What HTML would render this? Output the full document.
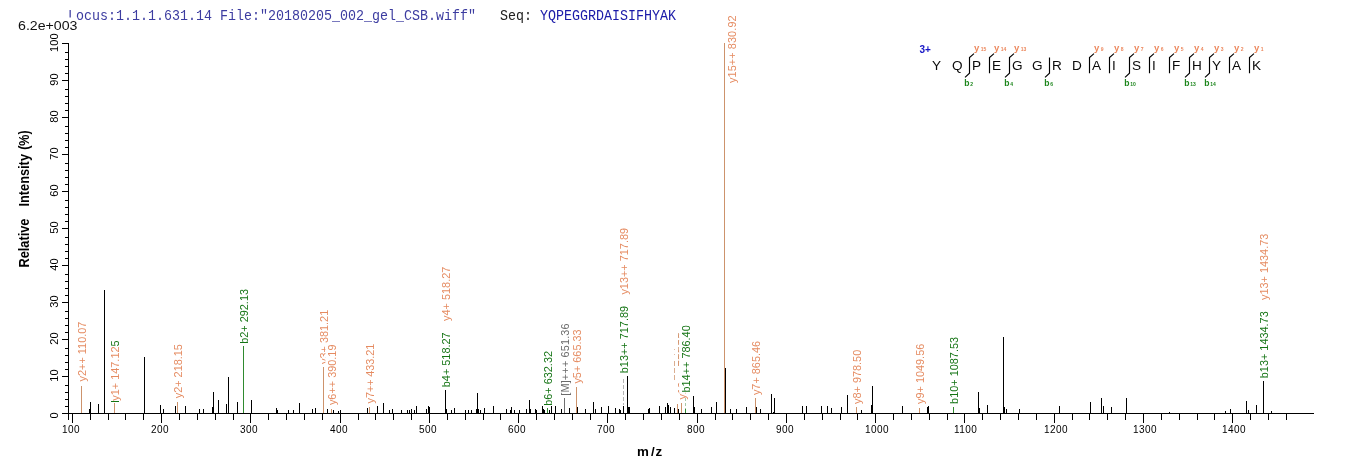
<!DOCTYPE html>
<html lang="en"><head><meta charset="utf-8"><title>MS/MS spectrum - YQPEGGRDAISIFHYAK</title>
<style>
html,body{margin:0;padding:0;background:#fff;}
body{width:1362px;height:473px;overflow:hidden;}
svg{display:block;}
text{font-family:"Liberation Sans",Arial,Helvetica,sans-serif;}
.mono text{font-family:"Liberation Mono","Courier New",monospace;}
.lb{font-size:10.9px;}
.ax{font-size:10.8px;fill:#000;}
.bold{font-weight:bold;}
</style></head><body>
<svg width="1362" height="473" viewBox="0 0 1362 473">
<rect x="0" y="0" width="1362" height="473" fill="#ffffff"/>
<g class="mono" font-size="14.6">
<text x="68" y="20" fill="#3c3ca0" textLength="408" lengthAdjust="spacingAndGlyphs">Locus:1.1.1.631.14 File:"20180205_002_gel_CSB.wiff"</text>
<text x="500" y="20" fill="#222" textLength="32" lengthAdjust="spacingAndGlyphs">Seq:</text>
<text x="540" y="20" fill="#1a1aa8" textLength="136" lengthAdjust="spacingAndGlyphs">YQPEGGRDAISIFHYAK</text>
</g>
<rect x="17" y="17.5" width="60.5" height="14" fill="#fff"/>
<text x="18" y="30" font-size="13.33" fill="#111" textLength="59.5" lengthAdjust="spacingAndGlyphs">6.2e+003</text>
<g shape-rendering="crispEdges" fill="#000">
<rect x="68" y="43" width="1" height="377"/>
<rect x="62" y="413" width="1252" height="1"/>
<rect x="62" y="413" width="6" height="1"/>
<rect x="65" y="406" width="3" height="1"/>
<rect x="65" y="399" width="3" height="1"/>
<rect x="65" y="392" width="3" height="1"/>
<rect x="65" y="385" width="3" height="1"/>
<rect x="62" y="376" width="6" height="1"/>
<rect x="65" y="369" width="3" height="1"/>
<rect x="65" y="362" width="3" height="1"/>
<rect x="65" y="355" width="3" height="1"/>
<rect x="65" y="348" width="3" height="1"/>
<rect x="62" y="339" width="6" height="1"/>
<rect x="65" y="332" width="3" height="1"/>
<rect x="65" y="325" width="3" height="1"/>
<rect x="65" y="318" width="3" height="1"/>
<rect x="65" y="311" width="3" height="1"/>
<rect x="62" y="302" width="6" height="1"/>
<rect x="65" y="295" width="3" height="1"/>
<rect x="65" y="288" width="3" height="1"/>
<rect x="65" y="281" width="3" height="1"/>
<rect x="65" y="274" width="3" height="1"/>
<rect x="62" y="265" width="6" height="1"/>
<rect x="65" y="258" width="3" height="1"/>
<rect x="65" y="251" width="3" height="1"/>
<rect x="65" y="244" width="3" height="1"/>
<rect x="65" y="237" width="3" height="1"/>
<rect x="62" y="228" width="6" height="1"/>
<rect x="65" y="221" width="3" height="1"/>
<rect x="65" y="214" width="3" height="1"/>
<rect x="65" y="207" width="3" height="1"/>
<rect x="65" y="200" width="3" height="1"/>
<rect x="62" y="191" width="6" height="1"/>
<rect x="65" y="184" width="3" height="1"/>
<rect x="65" y="177" width="3" height="1"/>
<rect x="65" y="170" width="3" height="1"/>
<rect x="65" y="163" width="3" height="1"/>
<rect x="62" y="154" width="6" height="1"/>
<rect x="65" y="147" width="3" height="1"/>
<rect x="65" y="140" width="3" height="1"/>
<rect x="65" y="133" width="3" height="1"/>
<rect x="65" y="126" width="3" height="1"/>
<rect x="62" y="117" width="6" height="1"/>
<rect x="65" y="110" width="3" height="1"/>
<rect x="65" y="103" width="3" height="1"/>
<rect x="65" y="96" width="3" height="1"/>
<rect x="65" y="89" width="3" height="1"/>
<rect x="62" y="80" width="6" height="1"/>
<rect x="65" y="73" width="3" height="1"/>
<rect x="65" y="66" width="3" height="1"/>
<rect x="65" y="59" width="3" height="1"/>
<rect x="65" y="52" width="3" height="1"/>
<rect x="62" y="43" width="6" height="1"/>
<rect x="72" y="413" width="1" height="10"/>
<rect x="90" y="413" width="1" height="7"/>
<rect x="108" y="413" width="1" height="7"/>
<rect x="125" y="413" width="1" height="7"/>
<rect x="143" y="413" width="1" height="7"/>
<rect x="161" y="413" width="1" height="10"/>
<rect x="179" y="413" width="1" height="7"/>
<rect x="197" y="413" width="1" height="7"/>
<rect x="215" y="413" width="1" height="7"/>
<rect x="233" y="413" width="1" height="7"/>
<rect x="250" y="413" width="1" height="10"/>
<rect x="268" y="413" width="1" height="7"/>
<rect x="286" y="413" width="1" height="7"/>
<rect x="304" y="413" width="1" height="7"/>
<rect x="322" y="413" width="1" height="7"/>
<rect x="340" y="413" width="1" height="10"/>
<rect x="358" y="413" width="1" height="7"/>
<rect x="375" y="413" width="1" height="7"/>
<rect x="393" y="413" width="1" height="7"/>
<rect x="411" y="413" width="1" height="7"/>
<rect x="429" y="413" width="1" height="10"/>
<rect x="447" y="413" width="1" height="7"/>
<rect x="465" y="413" width="1" height="7"/>
<rect x="483" y="413" width="1" height="7"/>
<rect x="500" y="413" width="1" height="7"/>
<rect x="518" y="413" width="1" height="10"/>
<rect x="536" y="413" width="1" height="7"/>
<rect x="554" y="413" width="1" height="7"/>
<rect x="572" y="413" width="1" height="7"/>
<rect x="590" y="413" width="1" height="7"/>
<rect x="607" y="413" width="1" height="10"/>
<rect x="625" y="413" width="1" height="7"/>
<rect x="643" y="413" width="1" height="7"/>
<rect x="661" y="413" width="1" height="7"/>
<rect x="679" y="413" width="1" height="7"/>
<rect x="697" y="413" width="1" height="10"/>
<rect x="715" y="413" width="1" height="7"/>
<rect x="732" y="413" width="1" height="7"/>
<rect x="750" y="413" width="1" height="7"/>
<rect x="768" y="413" width="1" height="7"/>
<rect x="786" y="413" width="1" height="10"/>
<rect x="804" y="413" width="1" height="7"/>
<rect x="822" y="413" width="1" height="7"/>
<rect x="840" y="413" width="1" height="7"/>
<rect x="857" y="413" width="1" height="7"/>
<rect x="875" y="413" width="1" height="10"/>
<rect x="893" y="413" width="1" height="7"/>
<rect x="911" y="413" width="1" height="7"/>
<rect x="929" y="413" width="1" height="7"/>
<rect x="947" y="413" width="1" height="7"/>
<rect x="964" y="413" width="1" height="10"/>
<rect x="982" y="413" width="1" height="7"/>
<rect x="1000" y="413" width="1" height="7"/>
<rect x="1018" y="413" width="1" height="7"/>
<rect x="1036" y="413" width="1" height="7"/>
<rect x="1054" y="413" width="1" height="10"/>
<rect x="1072" y="413" width="1" height="7"/>
<rect x="1089" y="413" width="1" height="7"/>
<rect x="1107" y="413" width="1" height="7"/>
<rect x="1125" y="413" width="1" height="7"/>
<rect x="1143" y="413" width="1" height="10"/>
<rect x="1161" y="413" width="1" height="7"/>
<rect x="1179" y="413" width="1" height="7"/>
<rect x="1197" y="413" width="1" height="7"/>
<rect x="1214" y="413" width="1" height="7"/>
<rect x="1232" y="413" width="1" height="10"/>
<rect x="1250" y="413" width="1" height="7"/>
<rect x="1268" y="413" width="1" height="7"/>
<rect x="1286" y="413" width="1" height="7"/>
</g>
<g class="ax">
<text transform="translate(58.1,418.5) rotate(-90)" font-size="11" letter-spacing="0.1">0</text>
<text transform="translate(58.1,381.7) rotate(-90)" font-size="11" letter-spacing="0.1">10</text>
<text transform="translate(58.1,344.7) rotate(-90)" font-size="11" letter-spacing="0.1">20</text>
<text transform="translate(58.1,307.7) rotate(-90)" font-size="11" letter-spacing="0.1">30</text>
<text transform="translate(58.1,270.7) rotate(-90)" font-size="11" letter-spacing="0.1">40</text>
<text transform="translate(58.1,233.7) rotate(-90)" font-size="11" letter-spacing="0.1">50</text>
<text transform="translate(58.1,196.7) rotate(-90)" font-size="11" letter-spacing="0.1">60</text>
<text transform="translate(58.1,159.7) rotate(-90)" font-size="11" letter-spacing="0.1">70</text>
<text transform="translate(58.1,122.7) rotate(-90)" font-size="11" letter-spacing="0.1">80</text>
<text transform="translate(58.1,85.7) rotate(-90)" font-size="11" letter-spacing="0.1">90</text>
<text transform="translate(58.1,51.9) rotate(-90)" font-size="11" letter-spacing="0.1">100</text>
<text x="62.0" y="433" font-size="10" letter-spacing="0.45">100</text>
<text x="151.0" y="433" font-size="10" letter-spacing="0.45">200</text>
<text x="240.0" y="433" font-size="10" letter-spacing="0.45">300</text>
<text x="330.0" y="433" font-size="10" letter-spacing="0.45">400</text>
<text x="419.0" y="433" font-size="10" letter-spacing="0.45">500</text>
<text x="508.0" y="433" font-size="10" letter-spacing="0.45">600</text>
<text x="597.0" y="433" font-size="10" letter-spacing="0.45">700</text>
<text x="687.0" y="433" font-size="10" letter-spacing="0.45">800</text>
<text x="776.0" y="433" font-size="10" letter-spacing="0.45">900</text>
<text x="865.0" y="433" font-size="10" letter-spacing="0.45">1000</text>
<text x="954.0" y="433" font-size="10" letter-spacing="0.45">1100</text>
<text x="1044.0" y="433" font-size="10" letter-spacing="0.45">1200</text>
<text x="1133.0" y="433" font-size="10" letter-spacing="0.45">1300</text>
<text x="1222.0" y="433" font-size="10" letter-spacing="0.45">1400</text>
</g>
<g class="bold" font-size="13.9" fill="#000">
<text transform="translate(29,267.6) rotate(-90)" textLength="49" lengthAdjust="spacingAndGlyphs">Relative</text>
<text transform="translate(29,206.6) rotate(-90)" textLength="52.6" lengthAdjust="spacingAndGlyphs">Intensity</text>
<text transform="translate(29,149.8) rotate(-90)" textLength="19.4" lengthAdjust="spacingAndGlyphs">(%)</text>
<text x="636.9 650.9 655.6" y="456" font-size="13.33">m/z</text>
</g>
<g class="lb">
<text transform="translate(686.4,399.6) rotate(-90)" fill="#e58b61">y12++ 781.90</text>
<text transform="translate(85.8,381.4) rotate(-90)" fill="#e58b61">y2++ 110.07</text>
<text transform="translate(119.0,400.7) rotate(-90)" fill="#e58b61">y1+ 147.12<tspan fill="#147414">5</tspan></text>
<text transform="translate(182.2,398.3) rotate(-90)" fill="#e58b61">y2+ 218.15</text>
<text transform="translate(248.2,343.8) rotate(-90)" fill="#147414">b2+ 292.13</text>
<text transform="translate(328.2,364.0) rotate(-90)" fill="#e58b61">y3+ 381.21</text>
<rect x="325.4" y="343.7" width="13" height="62.4" fill="#fff"/>
<text transform="translate(336.3,405.1) rotate(-90)" fill="#e58b61">y6++ 390.19</text>
<text transform="translate(374.2,403.4) rotate(-90)" fill="#e58b61" textLength="59.6" lengthAdjust="spacing">y7++ 433.21</text>
<text transform="translate(450.0,387.2) rotate(-90)" fill="#147414">b4+ 518.27</text>
<text transform="translate(450.0,320.9) rotate(-90)" fill="#e58b61">y4+ 518.27</text>
<text transform="translate(552.4,405.8) rotate(-90)" fill="#147414">b6+ 632.32</text>
<text transform="translate(569.0,395.7) rotate(-90)" fill="#6a6a6a" textLength="72.3" lengthAdjust="spacing">[M]+++ 651.36</text>
<text transform="translate(580.5,383.6) rotate(-90)" fill="#e58b61">y5+ 665.33</text>
<text transform="translate(627.9,373.2) rotate(-90)" fill="#147414">b13++ 717.89</text>
<text transform="translate(627.9,294.6) rotate(-90)" fill="#e58b61">y13++ 717.89</text>
<rect x="679.1" y="324.4" width="13" height="68.4" fill="#fff"/>
<text transform="translate(690.0,392.5) rotate(-90)" fill="#147414">b14++ 786.40</text>
<text transform="translate(736.4,83.0) rotate(-90)" fill="#e58b61" textLength="67.6" lengthAdjust="spacing">y15++ 830.92</text>
<text transform="translate(760.3,395.1) rotate(-90)" fill="#e58b61">y7+ 865.46</text>
<text transform="translate(861.4,404.0) rotate(-90)" fill="#e58b61">y8+ 978.50</text>
<text transform="translate(924.3,404.0) rotate(-90)" fill="#e58b61">y9+ 1049.56</text>
<text transform="translate(958.2,403.9) rotate(-90)" fill="#147414">b10+ 1087.53</text>
<text transform="translate(1268.2,378.2) rotate(-90)" fill="#147414">b13+ 1434.73</text>
<text transform="translate(1268.2,300.0) rotate(-90)" fill="#e58b61">y13+ 1434.73</text>
</g>
<g shape-rendering="crispEdges">
<rect x="111" y="401" width="8" height="1" fill="#147414"/>
<rect x="623" y="379" width="1" height="4" fill="#b4b4b4" opacity="1.0"/>
<rect x="623" y="385" width="1" height="4" fill="#b4b4b4" opacity="1.0"/>
<rect x="623" y="391" width="1" height="4" fill="#b4b4b4" opacity="1.0"/>
<rect x="623" y="397" width="1" height="4" fill="#b4b4b4" opacity="1.0"/>
<rect x="623" y="403" width="1" height="2" fill="#b4b4b4" opacity="1.0"/>
<rect x="685" y="398" width="1" height="3" fill="#a8c8a8" opacity="1.0"/>
<rect x="685" y="403" width="1" height="3" fill="#a8c8a8" opacity="1.0"/>
<rect x="685" y="408" width="1" height="1" fill="#a8c8a8" opacity="1.0"/>
<rect x="678" y="333" width="1" height="5" fill="#cd936c" opacity="0.75"/>
<rect x="678" y="340" width="1" height="5" fill="#cd936c" opacity="0.75"/>
<rect x="678" y="347" width="1" height="5" fill="#cd936c" opacity="0.75"/>
<rect x="678" y="354" width="1" height="5" fill="#cd936c" opacity="0.75"/>
<rect x="678" y="361" width="1" height="5" fill="#cd936c" opacity="0.75"/>
<rect x="674" y="361" width="1" height="5" fill="#cd936c" opacity="0.75"/>
<rect x="674" y="368" width="1" height="5" fill="#cd936c" opacity="0.75"/>
<rect x="674" y="375" width="1" height="5" fill="#cd936c" opacity="0.75"/>
<rect x="674" y="349" width="1" height="1" fill="#cd936c" opacity="0.6"/>
<rect x="674" y="354" width="1" height="1" fill="#cd936c" opacity="0.6"/>
<rect x="678" y="384" width="1" height="1" fill="#cd936c" opacity="0.6"/>
<rect x="678" y="390" width="1" height="1" fill="#cd936c" opacity="0.6"/>
</g>
<g shape-rendering="crispEdges">
<rect x="81" y="386" width="1" height="27" fill="#cd936c"/>
<rect x="89" y="409" width="1" height="4" fill="#000000"/>
<rect x="90" y="402" width="1" height="11" fill="#000000"/>
<rect x="98" y="404" width="1" height="9" fill="#000000"/>
<rect x="104" y="290" width="1" height="123" fill="#000000"/>
<rect x="114" y="403" width="1" height="10" fill="#cd936c"/>
<rect x="144" y="357" width="1" height="56" fill="#000000"/>
<rect x="160" y="405" width="1" height="8" fill="#000000"/>
<rect x="163" y="409" width="1" height="4" fill="#000000"/>
<rect x="175" y="406" width="1" height="7" fill="#000000"/>
<rect x="177" y="402" width="1" height="11" fill="#cd936c"/>
<rect x="185" y="406" width="1" height="7" fill="#000000"/>
<rect x="199" y="409" width="1" height="4" fill="#000000"/>
<rect x="203" y="409" width="1" height="4" fill="#000000"/>
<rect x="212" y="407" width="1" height="6" fill="#000000"/>
<rect x="213" y="392" width="1" height="21" fill="#000000"/>
<rect x="218" y="400" width="1" height="13" fill="#000000"/>
<rect x="226" y="404" width="1" height="9" fill="#000000"/>
<rect x="228" y="377" width="1" height="36" fill="#000000"/>
<rect x="237" y="402" width="1" height="11" fill="#000000"/>
<rect x="243" y="346" width="1" height="67" fill="#2f8a2f"/>
<rect x="251" y="400" width="1" height="13" fill="#000000"/>
<rect x="276" y="408" width="1" height="5" fill="#000000"/>
<rect x="277" y="410" width="1" height="3" fill="#000000"/>
<rect x="288" y="410" width="1" height="3" fill="#000000"/>
<rect x="293" y="410" width="1" height="3" fill="#000000"/>
<rect x="299" y="403" width="1" height="10" fill="#000000"/>
<rect x="312" y="409" width="1" height="4" fill="#000000"/>
<rect x="315" y="408" width="1" height="5" fill="#000000"/>
<rect x="323" y="367" width="1" height="46" fill="#cd936c"/>
<rect x="327" y="409" width="1" height="4" fill="#000000"/>
<rect x="331" y="409" width="1" height="4" fill="#cd936c"/>
<rect x="333" y="410" width="1" height="3" fill="#000000"/>
<rect x="338" y="411" width="1" height="2" fill="#000000"/>
<rect x="340" y="410" width="1" height="3" fill="#000000"/>
<rect x="367" y="408" width="1" height="5" fill="#000000"/>
<rect x="369" y="407" width="1" height="6" fill="#cd936c"/>
<rect x="377" y="406" width="1" height="7" fill="#000000"/>
<rect x="383" y="403" width="1" height="10" fill="#000000"/>
<rect x="389" y="410" width="1" height="3" fill="#000000"/>
<rect x="392" y="409" width="1" height="4" fill="#000000"/>
<rect x="401" y="410" width="1" height="3" fill="#000000"/>
<rect x="407" y="410" width="1" height="3" fill="#000000"/>
<rect x="409" y="410" width="1" height="3" fill="#000000"/>
<rect x="411" y="409" width="1" height="4" fill="#000000"/>
<rect x="414" y="410" width="1" height="3" fill="#000000"/>
<rect x="416" y="406" width="1" height="7" fill="#000000"/>
<rect x="426" y="409" width="1" height="4" fill="#000000"/>
<rect x="428" y="406" width="1" height="7" fill="#000000"/>
<rect x="429" y="407" width="1" height="6" fill="#000000"/>
<rect x="445" y="390" width="1" height="23" fill="#000000"/>
<rect x="446" y="409" width="1" height="4" fill="#000000"/>
<rect x="451" y="410" width="1" height="3" fill="#000000"/>
<rect x="454" y="408" width="1" height="5" fill="#000000"/>
<rect x="465" y="410" width="1" height="3" fill="#000000"/>
<rect x="468" y="410" width="1" height="3" fill="#000000"/>
<rect x="471" y="410" width="1" height="3" fill="#000000"/>
<rect x="476" y="409" width="1" height="4" fill="#000000"/>
<rect x="477" y="393" width="1" height="20" fill="#000000"/>
<rect x="478" y="409" width="1" height="4" fill="#000000"/>
<rect x="480" y="410" width="1" height="3" fill="#000000"/>
<rect x="484" y="408" width="1" height="5" fill="#000000"/>
<rect x="493" y="406" width="1" height="7" fill="#000000"/>
<rect x="506" y="409" width="1" height="4" fill="#000000"/>
<rect x="510" y="410" width="1" height="3" fill="#000000"/>
<rect x="511" y="407" width="1" height="6" fill="#000000"/>
<rect x="514" y="410" width="1" height="3" fill="#000000"/>
<rect x="519" y="410" width="1" height="3" fill="#000000"/>
<rect x="526" y="409" width="1" height="4" fill="#000000"/>
<rect x="529" y="400" width="1" height="13" fill="#000000"/>
<rect x="530" y="409" width="1" height="4" fill="#000000"/>
<rect x="535" y="409" width="1" height="4" fill="#000000"/>
<rect x="536" y="410" width="1" height="3" fill="#000000"/>
<rect x="542" y="406" width="1" height="7" fill="#000000"/>
<rect x="543" y="409" width="1" height="4" fill="#000000"/>
<rect x="544" y="410" width="1" height="3" fill="#000000"/>
<rect x="547" y="408" width="1" height="5" fill="#2f8a2f"/>
<rect x="549" y="410" width="1" height="3" fill="#000000"/>
<rect x="551" y="406" width="1" height="7" fill="#000000"/>
<rect x="555" y="406" width="1" height="7" fill="#000000"/>
<rect x="561" y="409" width="1" height="4" fill="#000000"/>
<rect x="564" y="398" width="1" height="15" fill="#6e6e6e"/>
<rect x="569" y="408" width="1" height="5" fill="#000000"/>
<rect x="576" y="387" width="1" height="26" fill="#cd936c"/>
<rect x="577" y="407" width="1" height="6" fill="#000000"/>
<rect x="585" y="409" width="1" height="4" fill="#000000"/>
<rect x="593" y="402" width="1" height="11" fill="#000000"/>
<rect x="595" y="409" width="1" height="4" fill="#000000"/>
<rect x="601" y="407" width="1" height="6" fill="#000000"/>
<rect x="608" y="406" width="1" height="7" fill="#000000"/>
<rect x="615" y="408" width="1" height="5" fill="#000000"/>
<rect x="619" y="409" width="1" height="4" fill="#000000"/>
<rect x="620" y="410" width="1" height="3" fill="#000000"/>
<rect x="623" y="406" width="1" height="7" fill="#000000"/>
<rect x="627" y="376" width="1" height="37" fill="#000000"/>
<rect x="628" y="407" width="1" height="6" fill="#000000"/>
<rect x="629" y="407" width="1" height="6" fill="#000000"/>
<rect x="648" y="409" width="1" height="4" fill="#000000"/>
<rect x="649" y="408" width="1" height="5" fill="#000000"/>
<rect x="659" y="406" width="1" height="7" fill="#000000"/>
<rect x="665" y="407" width="1" height="6" fill="#000000"/>
<rect x="667" y="403" width="1" height="10" fill="#000000"/>
<rect x="668" y="405" width="1" height="8" fill="#000000"/>
<rect x="670" y="407" width="1" height="6" fill="#000000"/>
<rect x="674" y="408" width="1" height="5" fill="#000000"/>
<rect x="677" y="404" width="1" height="9" fill="#cd936c"/>
<rect x="678" y="409" width="1" height="4" fill="#000000"/>
<rect x="681" y="403" width="1" height="10" fill="#cd936c"/>
<rect x="685" y="409" width="1" height="4" fill="#2f8a2f"/>
<rect x="693" y="396" width="1" height="17" fill="#000000"/>
<rect x="694" y="407" width="1" height="6" fill="#000000"/>
<rect x="701" y="409" width="1" height="4" fill="#000000"/>
<rect x="711" y="407" width="1" height="6" fill="#000000"/>
<rect x="716" y="402" width="1" height="11" fill="#000000"/>
<rect x="724" y="43" width="1" height="370" fill="#cd936c"/>
<rect x="725" y="368" width="1" height="45" fill="#000000"/>
<rect x="730" y="409" width="1" height="4" fill="#000000"/>
<rect x="736" y="409" width="1" height="4" fill="#000000"/>
<rect x="746" y="407" width="1" height="6" fill="#000000"/>
<rect x="755" y="398" width="1" height="15" fill="#cd936c"/>
<rect x="756" y="407" width="1" height="6" fill="#000000"/>
<rect x="760" y="409" width="1" height="4" fill="#000000"/>
<rect x="771" y="394" width="1" height="19" fill="#000000"/>
<rect x="773" y="412" width="1" height="1" fill="#000000"/>
<rect x="774" y="398" width="1" height="15" fill="#000000"/>
<rect x="802" y="406" width="1" height="7" fill="#000000"/>
<rect x="806" y="406" width="1" height="7" fill="#000000"/>
<rect x="821" y="406" width="1" height="7" fill="#000000"/>
<rect x="827" y="406" width="1" height="7" fill="#000000"/>
<rect x="831" y="408" width="1" height="5" fill="#000000"/>
<rect x="841" y="407" width="1" height="6" fill="#000000"/>
<rect x="847" y="395" width="1" height="18" fill="#000000"/>
<rect x="856" y="407" width="1" height="6" fill="#cd936c"/>
<rect x="861" y="410" width="1" height="3" fill="#000000"/>
<rect x="871" y="405" width="1" height="8" fill="#000000"/>
<rect x="872" y="386" width="1" height="27" fill="#000000"/>
<rect x="902" y="406" width="1" height="7" fill="#000000"/>
<rect x="919" y="408" width="1" height="5" fill="#cd936c"/>
<rect x="927" y="407" width="1" height="6" fill="#000000"/>
<rect x="928" y="406" width="1" height="7" fill="#000000"/>
<rect x="953" y="407" width="1" height="6" fill="#2f8a2f"/>
<rect x="978" y="392" width="1" height="21" fill="#000000"/>
<rect x="979" y="408" width="1" height="5" fill="#000000"/>
<rect x="987" y="405" width="1" height="8" fill="#000000"/>
<rect x="1003" y="337" width="1" height="76" fill="#000000"/>
<rect x="1004" y="407" width="1" height="6" fill="#000000"/>
<rect x="1006" y="409" width="1" height="4" fill="#000000"/>
<rect x="1019" y="409" width="1" height="4" fill="#000000"/>
<rect x="1059" y="406" width="1" height="7" fill="#000000"/>
<rect x="1090" y="402" width="1" height="11" fill="#000000"/>
<rect x="1101" y="398" width="1" height="15" fill="#000000"/>
<rect x="1103" y="406" width="1" height="7" fill="#000000"/>
<rect x="1111" y="407" width="1" height="6" fill="#000000"/>
<rect x="1126" y="398" width="1" height="15" fill="#000000"/>
<rect x="1169" y="412" width="1" height="1" fill="#000000"/>
<rect x="1225" y="411" width="1" height="2" fill="#000000"/>
<rect x="1230" y="409" width="1" height="4" fill="#000000"/>
<rect x="1246" y="401" width="1" height="12" fill="#000000"/>
<rect x="1248" y="410" width="1" height="3" fill="#000000"/>
<rect x="1256" y="405" width="1" height="8" fill="#000000"/>
<rect x="1263" y="381" width="1" height="32" fill="#000000"/>
<rect x="1271" y="411" width="1" height="2" fill="#000000"/>
</g>
<g font-size="13.6" fill="#0a0a0a">
<text x="932" y="70">Y</text>
<text x="952" y="70">Q</text>
<text x="972" y="70">P</text>
<text x="992" y="70">E</text>
<text x="1012" y="70">G</text>
<text x="1032" y="70">G</text>
<text x="1052" y="70">R</text>
<text x="1072" y="70">D</text>
<text x="1092" y="70">A</text>
<text x="1112" y="70">I</text>
<text x="1132" y="70">S</text>
<text x="1152" y="70">I</text>
<text x="1172" y="70">F</text>
<text x="1192" y="70">H</text>
<text x="1212" y="70">Y</text>
<text x="1232" y="70">A</text>
<text x="1252" y="70">K</text>
</g>
<text x="919.5" y="52.7" font-size="10" class="bold" fill="#1616c6">3+</text>
<g fill="none" stroke="#000" stroke-width="1.15">
<path d="M974.0 53.6 L969.5 57.5 L969.5 73.3 L965.0 77.4"/>
<path d="M994.0 53.6 L989.5 57.5 L989.5 73.3"/>
<path d="M1014.0 53.6 L1009.5 57.5 L1009.5 73.3 L1005.0 77.4"/>
<path d="M1049.5 57.5 L1049.5 73.3 L1045.0 77.4"/>
<path d="M1094.0 53.6 L1089.5 57.5 L1089.5 73.3"/>
<path d="M1114.0 53.6 L1109.5 57.5 L1109.5 73.3"/>
<path d="M1134.0 53.6 L1129.5 57.5 L1129.5 73.3 L1125.0 77.4"/>
<path d="M1154.0 53.6 L1149.5 57.5 L1149.5 73.3"/>
<path d="M1174.0 53.6 L1169.5 57.5 L1169.5 73.3"/>
<path d="M1194.0 53.6 L1189.5 57.5 L1189.5 73.3 L1185.0 77.4"/>
<path d="M1214.0 53.6 L1209.5 57.5 L1209.5 73.3 L1205.0 77.4"/>
<path d="M1234.0 53.6 L1229.5 57.5 L1229.5 73.3"/>
<path d="M1254.0 53.6 L1249.5 57.5 L1249.5 73.3"/>
</g>
<g class="bold">
<text x="973.9" y="50.9" font-size="9.6" fill="#ec875c">y<tspan font-size="5" dx="1.5" dy="-0.3">15</tspan></text>
<text x="993.9" y="50.9" font-size="9.6" fill="#ec875c">y<tspan font-size="5" dx="1.5" dy="-0.3">14</tspan></text>
<text x="1013.9" y="50.9" font-size="9.6" fill="#ec875c">y<tspan font-size="5" dx="1.5" dy="-0.3">13</tspan></text>
<text x="1093.9" y="50.9" font-size="9.6" fill="#ec875c">y<tspan font-size="5" dx="1.5" dy="-0.3">9</tspan></text>
<text x="1113.9" y="50.9" font-size="9.6" fill="#ec875c">y<tspan font-size="5" dx="1.5" dy="-0.3">8</tspan></text>
<text x="1133.9" y="50.9" font-size="9.6" fill="#ec875c">y<tspan font-size="5" dx="1.5" dy="-0.3">7</tspan></text>
<text x="1153.9" y="50.9" font-size="9.6" fill="#ec875c">y<tspan font-size="5" dx="1.5" dy="-0.3">6</tspan></text>
<text x="1173.9" y="50.9" font-size="9.6" fill="#ec875c">y<tspan font-size="5" dx="1.5" dy="-0.3">5</tspan></text>
<text x="1193.9" y="50.9" font-size="9.6" fill="#ec875c">y<tspan font-size="5" dx="1.5" dy="-0.3">4</tspan></text>
<text x="1213.9" y="50.9" font-size="9.6" fill="#ec875c">y<tspan font-size="5" dx="1.5" dy="-0.3">3</tspan></text>
<text x="1233.9" y="50.9" font-size="9.6" fill="#ec875c">y<tspan font-size="5" dx="1.5" dy="-0.3">2</tspan></text>
<text x="1253.9" y="50.9" font-size="9.6" fill="#ec875c">y<tspan font-size="5" dx="1.5" dy="-0.3">1</tspan></text>
<text x="964.3" y="85.8" font-size="8.6" fill="#1c861c">b<tspan font-size="5" dx="0.7" dy="0">2</tspan></text>
<text x="1004.3" y="85.8" font-size="8.6" fill="#1c861c">b<tspan font-size="5" dx="0.7" dy="0">4</tspan></text>
<text x="1044.3" y="85.8" font-size="8.6" fill="#1c861c">b<tspan font-size="5" dx="0.7" dy="0">6</tspan></text>
<text x="1124.3" y="85.8" font-size="8.6" fill="#1c861c">b<tspan font-size="5" dx="0.7" dy="0">10</tspan></text>
<text x="1184.3" y="85.8" font-size="8.6" fill="#1c861c">b<tspan font-size="5" dx="0.7" dy="0">13</tspan></text>
<text x="1204.3" y="85.8" font-size="8.6" fill="#1c861c">b<tspan font-size="5" dx="0.7" dy="0">14</tspan></text>
</g>
</svg>
</body></html>
